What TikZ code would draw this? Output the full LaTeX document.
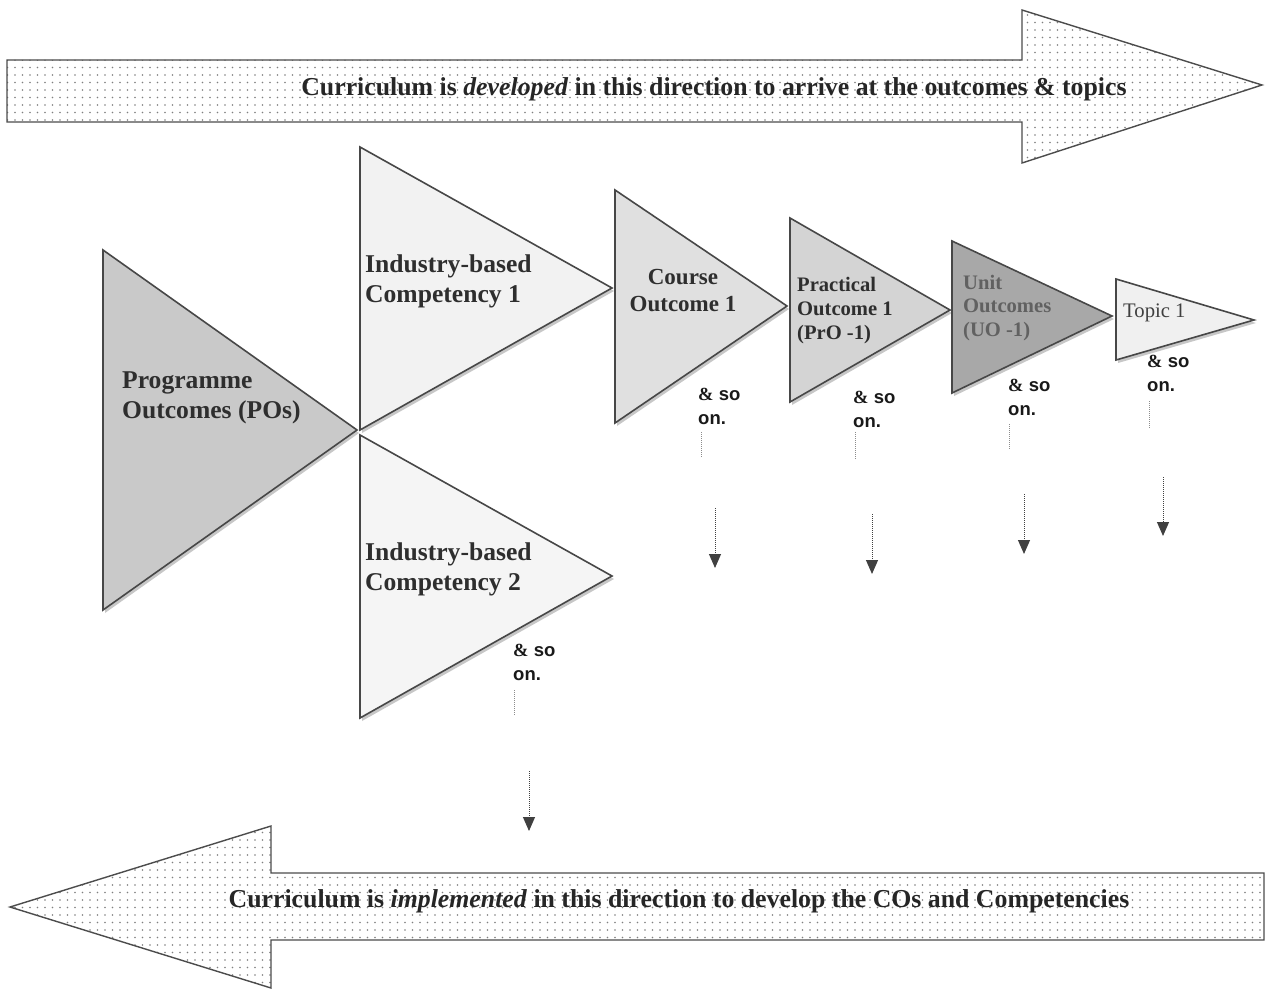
\documentclass[tikz,border=0pt]{standalone}
\usepackage{fontspec}
\setmainfont{Liberation Serif}
\newfontfamily\arialfont{Liberation Sans}
\usetikzlibrary{patterns.meta,arrows.meta}
\newcommand{\soon}{{\rmfamily\bfseries\&}~so\\on.}
\begin{document}
\begin{tikzpicture}[x=1pt,y=-1pt,
 tri/.style={draw=black!72, line width=1.6pt, line join=miter},
 trishadow/.style={fill=black!22, draw=none},
 bigarrow/.style={draw=black!70, line width=1.4pt, line join=miter, pattern={Dots[distance=7.5pt,radius=0.95pt]}, pattern color=black!50},
 lbl/.style={inner sep=0pt, anchor=west, align=left, font=\bfseries\fontsize{25.6}{30}\selectfont, text=black!82},
 arrowtxt/.style={inner sep=0pt, font=\bfseries\fontsize{25.8}{28}\selectfont, text=black!85},
 sm/.style={inner sep=0pt, anchor=west, align=left, font=\arialfont\bfseries\fontsize{18.5}{24}\selectfont, text=black!90},
 dotline/.style={densely dotted, draw=black!45, line width=1pt},
 dotarrow/.style={densely dotted, draw=black!75, line width=1pt, -{Triangle[width=12pt,length=14pt]}},
]
\useasboundingbox (0,0) rectangle (1266,990);
\fill[white] (0,0) rectangle (1266,990);

% big arrows
\path[bigarrow] (7,60) -- (1022,60) -- (1022,10) -- (1262,85) -- (1022,163) -- (1022,122) -- (7,122) -- cycle;
\node[arrowtxt] (toptext) at (714,89) {Curriculum is \textit{developed} in this direction to arrive at the outcomes \& topics};
\path[bigarrow] (10,907) -- (271,826) -- (271,873) -- (1264,873) -- (1264,940) -- (271,940) -- (271,988) -- cycle;
\node[arrowtxt] (bottext) at (679,901) {Curriculum is \textit{implemented} in this direction to develop the COs and Competencies};

% shadows
\begin{scope}[shift={(2,3)}]
\fill[trishadow] (103,250) -- (357,430) -- (103,610) -- cycle;
\fill[trishadow] (360,147) -- (612,288) -- (360,430) -- cycle;
\fill[trishadow] (360,435) -- (612,576) -- (360,718) -- cycle;
\fill[trishadow] (615,190) -- (787,306) -- (615,423) -- cycle;
\fill[trishadow] (790,218) -- (950,310) -- (790,402) -- cycle;
\fill[trishadow] (952,241) -- (1112,316) -- (952,393) -- cycle;
\fill[trishadow] (1116,279) -- (1254,320) -- (1116,360) -- cycle;
\end{scope}

% triangles
\filldraw[tri, fill=black!21] (103,250) -- (357,430) -- (103,610) -- cycle;
\filldraw[tri, fill=black!5] (360,147) -- (612,288) -- (360,430) -- cycle;
\filldraw[tri, fill=black!4] (360,435) -- (612,576) -- (360,718) -- cycle;
\filldraw[tri, fill=black!12] (615,190) -- (787,306) -- (615,423) -- cycle;
\filldraw[tri, fill=black!17] (790,218) -- (950,310) -- (790,402) -- cycle;
\filldraw[tri, fill=black!34] (952,241) -- (1112,316) -- (952,393) -- cycle;
\filldraw[tri, fill=black!6] (1116,279) -- (1254,320) -- (1116,360) -- cycle;

% labels
\node[lbl] (po) at (122,398) {Programme\\Outcomes (POs)};
\node[lbl] (ic1) at (365,281) {Industry-based\\Competency 1};
\node[lbl] (ic2) at (365,569) {Industry-based\\Competency 2};
\node[lbl, anchor=center, align=center, font=\bfseries\fontsize{23}{27}\selectfont] (co1) at (683,291) {Course\\Outcome 1};
\node[lbl, font=\bfseries\fontsize{20.6}{24}\selectfont] (pro1) at (797,311) {Practical\\Outcome 1\\(PrO -1)};
\node[lbl, font=\bfseries\fontsize{20.6}{23.5}\selectfont, text=black!62] (uo1) at (963,308) {Unit\\Outcomes\\(UO -1)};
\node[lbl, font=\fontsize{20.7}{24}\selectfont, text=black!75] (topic1) at (1123,313) {Topic 1};

% & so on.
\node[sm] (soIC) at (513,662) {\soon};
\node[sm] (soCO) at (698,406) {\soon};
\node[sm] (soPR) at (853,409) {\soon};
\node[sm] (soUO) at (1008,397) {\soon};
\node[sm] (soTP) at (1147,373) {\soon};

% short dotted lines
\coordinate (dIC1) at (514,690); \coordinate (dIC2) at (514,715);
\coordinate (dCO1) at (701,432); \coordinate (dCO2) at (701,458);
\coordinate (dPR1) at (855,432); \coordinate (dPR2) at (855,460);
\coordinate (dUO1) at (1009,424); \coordinate (dUO2) at (1009,450);
\coordinate (dTP1) at (1149,401); \coordinate (dTP2) at (1149,428);
\draw[dotline] (dIC1) -- (dIC2);
\draw[dotline] (dCO1) -- (dCO2);
\draw[dotline] (dPR1) -- (dPR2);
\draw[dotline] (dUO1) -- (dUO2);
\draw[dotline] (dTP1) -- (dTP2);

% dotted arrows
\coordinate (aIC1) at (529,771); \coordinate (aIC2) at (529,831);
\coordinate (aCO1) at (715,508); \coordinate (aCO2) at (715,568);
\coordinate (aPR1) at (872,514); \coordinate (aPR2) at (872,574);
\coordinate (aUO1) at (1024,494); \coordinate (aUO2) at (1024,554);
\coordinate (aTP1) at (1163,477); \coordinate (aTP2) at (1163,536);
\draw[dotarrow] (aIC1) -- (aIC2);
\draw[dotarrow] (aCO1) -- (aCO2);
\draw[dotarrow] (aPR1) -- (aPR2);
\draw[dotarrow] (aUO1) -- (aUO2);
\draw[dotarrow] (aTP1) -- (aTP2);
\end{tikzpicture}
\end{document}
